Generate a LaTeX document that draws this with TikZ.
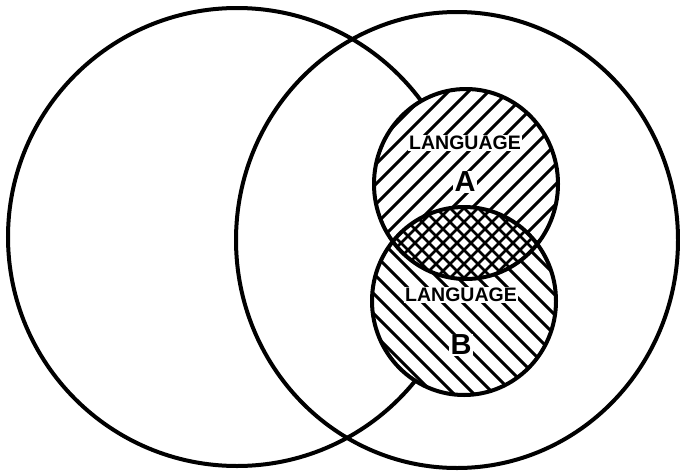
\documentclass[tikz,border=0pt]{standalone}
\usepackage{fontspec}
\setmainfont{Liberation Sans}
\begin{document}
\begin{tikzpicture}[x=1pt,y=-1pt,
  outline/.style={line width=4pt},
  hatch/.style={line width=3pt},
  xhatch/.style={line width=2.7pt},
  small/.style={font=\fontsize{19.5}{20}\selectfont\bfseries, fill=white, inner sep=1.5pt},
  big/.style={font=\fontsize{29}{30}\selectfont\bfseries, fill=white, inner sep=1.5pt}]
\useasboundingbox (0,0) rectangle (680,474);
\def\circA{(466,184) ellipse [x radius=92pt, y radius=95pt]}
\def\circB{(464,301) ellipse [x radius=92pt, y radius=94pt]}
% large ellipses
\draw[outline] (237,237) ellipse [x radius=229pt, y radius=229pt];
\draw[outline] (457,240) ellipse [x radius=221pt, y radius=228pt];
% white fill of small circles
\fill[white] \circA;
\fill[white] \circB;
% hatching of A
\begin{scope}
  \clip \circA;
  \foreach \c in {440,460,...,860} \draw[hatch] (\c-300,300) -- (\c-50,50);
\end{scope}
% hatching of B
\begin{scope}
  \clip \circB;
  \foreach \c in {-60,-40,...,380} \draw[hatch] (\c+180,180) -- (\c+420,420);
\end{scope}
% cross hatching of the overlap
\begin{scope}
  \clip \circA;
  \clip \circB;
  \fill[white] (360,190) rectangle (570,290);
  \foreach \c in {560,574,...,860} \draw[xhatch] (\c-300,300) -- (\c-100,100);
  \foreach \c in {60,74,...,360} \draw[xhatch] (\c+180,180) -- (\c+320,320);
\end{scope}
% outlines of small circles
\draw[outline] \circA;
\draw[outline] \circB;
% labels
\node[small] (la) at (465,143) {LANGUAGE};
\node[big]   (a)  at (465,182) {A};
\node[small] (lb) at (461,295) {LANGUAGE};
\node[big]   (b)  at (461,345) {B};
\end{tikzpicture}
\end{document}
